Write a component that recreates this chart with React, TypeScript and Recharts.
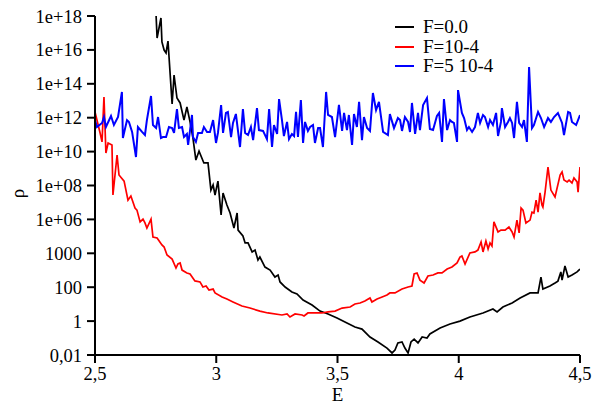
import React from 'react';
import { LineChart, Line, XAxis, YAxis, Legend } from 'recharts';

// E axis
const xTicks = [2.5, 3, 3.5, 4, 4.5];
const xTickLabels = ['2,5', '3', '3,5', '4', '4,5'];
// rho axis (values stored as log10 rho)
const yTicks = [-2, 0, 2, 4, 6, 8, 10, 12, 14, 16, 18];
const yTickLabels = ['0,01', '1', '100', '1000', '1e+06', '1e+08', '1e+10', '1e+12', '1e+14', '1e+16', '1e+18'];

const seriesNames = ['F=0.0', 'F=10-4', 'F=5 10-4'];
const seriesColors = ['#000000', '#ff0000', '#0000ff'];

// [E, log10(rho)]
const blackSeries: [number, number][] = [
  [2.752, 18.0], [2.756, 16.7], [2.764, 17.29], [2.772, 17.88], [2.776, 16.47], [2.785, 15.99], [2.793, 15.82],
  [2.801, 16.52], [2.818, 12.81], [2.826, 14.52], [2.838, 13.16], [2.851, 12.87], [2.867, 11.86], [2.879, 12.63],
  [2.892, 11.75], [2.904, 10.8], [2.916, 9.5], [2.929, 10.03], [2.949, 9.33], [2.966, 9.33], [2.978, 7.73],
  [2.987, 8.03], [2.995, 7.44], [3.007, 8.26], [3.02, 6.26], [3.028, 7.56], [3.044, 6.85], [3.057, 6.38],
  [3.073, 5.49], [3.086, 6.38], [3.09, 5.37], [3.11, 5.02], [3.119, 4.61], [3.131, 4.61], [3.148, 4.08],
  [3.16, 4.19], [3.172, 3.6], [3.18, 3.78], [3.201, 3.19], [3.222, 3.01], [3.242, 2.6], [3.255, 2.72],
  [3.263, 2.31], [3.284, 2.01], [3.312, 1.72], [3.333, 1.6], [3.358, 1.24], [3.395, 0.95], [3.428, 0.59],
  [3.461, 0.42], [3.498, 0.18], [3.539, -0.11], [3.572, -0.35], [3.601, -0.47], [3.634, -0.94], [3.667, -1.23],
  [3.704, -1.59], [3.725, -1.88], [3.737, -1.71], [3.749, -1.29], [3.766, -1.23], [3.778, -1.59], [3.791, -1.88],
  [3.803, -1.23], [3.816, -1.06], [3.832, -1.29], [3.849, -0.94], [3.869, -1.0], [3.881, -0.76], [3.923, -0.41],
  [3.964, -0.17], [4.005, 0.0], [4.046, 0.24], [4.1, 0.48], [4.141, 0.71], [4.158, 0.54], [4.182, 0.83],
  [4.22, 1.07], [4.253, 1.36], [4.294, 1.66], [4.327, 1.66], [4.339, 2.6], [4.347, 1.89], [4.376, 2.07],
  [4.397, 2.25], [4.409, 2.36], [4.421, 2.9], [4.426, 2.42], [4.438, 3.25], [4.451, 2.6], [4.467, 2.72],
  [4.488, 2.9], [4.5, 3.07],
];

const redSeries: [number, number][] = [
  [2.5, 12.34], [2.521, 11.1], [2.529, 10.57], [2.537, 13.22], [2.545, 9.92], [2.554, 10.51], [2.57, 10.39],
  [2.574, 7.44], [2.591, 9.8], [2.599, 8.62], [2.62, 8.26], [2.636, 7.14], [2.648, 7.38], [2.665, 6.67],
  [2.673, 6.55], [2.686, 5.85], [2.698, 6.02], [2.706, 5.79], [2.714, 5.49], [2.731, 6.02], [2.739, 4.96],
  [2.756, 4.9], [2.776, 4.49], [2.785, 4.37], [2.797, 3.9], [2.818, 3.66], [2.834, 3.13], [2.842, 3.37],
  [2.851, 3.43], [2.859, 3.01], [2.879, 2.84], [2.892, 2.78], [2.912, 2.37], [2.933, 2.31], [2.945, 2.01],
  [2.958, 2.07], [2.97, 1.83], [2.987, 1.89], [2.995, 1.66], [3.024, 1.42], [3.044, 1.3], [3.069, 1.13],
  [3.106, 0.89], [3.139, 0.77], [3.18, 0.59], [3.213, 0.48], [3.271, 0.36], [3.292, 0.42], [3.304, 0.24],
  [3.325, 0.42], [3.354, 0.36], [3.362, 0.3], [3.378, 0.48], [3.436, 0.48], [3.461, 0.54], [3.49, 0.59],
  [3.519, 0.77], [3.552, 0.83], [3.572, 1.01], [3.593, 1.07], [3.613, 1.18], [3.634, 1.36], [3.642, 1.13],
  [3.663, 1.3], [3.684, 1.42], [3.704, 1.54], [3.716, 1.66], [3.737, 1.66], [3.766, 1.89], [3.791, 2.01],
  [3.807, 2.07], [3.816, 2.78], [3.828, 2.84], [3.84, 2.42], [3.857, 2.25], [3.873, 2.66], [3.894, 2.72],
  [3.914, 2.84], [3.931, 2.84], [3.952, 3.07], [3.972, 3.19], [3.993, 3.43], [4.005, 3.78], [4.013, 3.84],
  [4.026, 3.37], [4.046, 4.02], [4.067, 4.08], [4.079, 4.19], [4.092, 4.67], [4.1, 4.08], [4.112, 4.72],
  [4.121, 4.25], [4.129, 4.61], [4.137, 4.43], [4.145, 5.85], [4.162, 5.26], [4.174, 5.37], [4.191, 5.37],
  [4.207, 5.55], [4.22, 5.26], [4.228, 4.96], [4.24, 5.96], [4.249, 5.2], [4.257, 6.67], [4.265, 6.55],
  [4.277, 5.79], [4.294, 5.96], [4.302, 6.43], [4.31, 6.38], [4.319, 7.14], [4.327, 6.43], [4.335, 7.56],
  [4.343, 6.85], [4.347, 6.73], [4.356, 7.61], [4.368, 9.09], [4.38, 7.73], [4.397, 7.32], [4.418, 8.62],
  [4.426, 8.8], [4.434, 8.32], [4.447, 8.21], [4.455, 8.32], [4.467, 8.15], [4.475, 8.44], [4.488, 8.21],
  [4.492, 7.61], [4.5, 9.09],
];

const blueSeries: [number, number][] = [
  [2.5, 11.86], [2.508, 11.45], [2.529, 11.69], [2.537, 12.04], [2.545, 11.45], [2.566, 12.1], [2.578, 11.57],
  [2.595, 12.04], [2.611, 13.52], [2.615, 10.8], [2.632, 11.86], [2.64, 11.75], [2.653, 11.16], [2.669, 9.68],
  [2.677, 11.45], [2.694, 11.16], [2.706, 10.98], [2.714, 11.86], [2.731, 13.28], [2.739, 11.57], [2.752, 11.39],
  [2.76, 12.04], [2.772, 10.8], [2.78, 10.86], [2.793, 10.86], [2.805, 11.45], [2.818, 11.39], [2.826, 11.1],
  [2.838, 12.51], [2.846, 11.39], [2.859, 11.45], [2.867, 10.86], [2.879, 11.04], [2.884, 10.39], [2.892, 11.27],
  [2.9, 12.16], [2.904, 10.86], [2.916, 10.57], [2.925, 11.1], [2.941, 11.1], [2.949, 11.45], [2.962, 11.16],
  [2.974, 11.16], [2.987, 11.86], [2.999, 10.51], [3.007, 11.1], [3.02, 12.75], [3.028, 11.1], [3.04, 12.28],
  [3.048, 12.34], [3.061, 10.86], [3.069, 11.69], [3.081, 12.22], [3.098, 10.27], [3.11, 12.51], [3.119, 11.1],
  [3.131, 10.98], [3.143, 11.45], [3.152, 10.68], [3.168, 12.57], [3.176, 11.27], [3.193, 11.22], [3.209, 10.74],
  [3.218, 12.51], [3.23, 10.27], [3.238, 11.57], [3.251, 11.04], [3.259, 13.1], [3.271, 11.86], [3.279, 10.92],
  [3.292, 11.75], [3.3, 10.74], [3.312, 11.04], [3.321, 10.92], [3.329, 12.34], [3.337, 10.86], [3.349, 13.04],
  [3.358, 10.51], [3.366, 11.75], [3.378, 11.22], [3.387, 11.45], [3.399, 11.57], [3.407, 10.51], [3.42, 11.39],
  [3.428, 11.39], [3.44, 10.27], [3.453, 13.52], [3.461, 12.16], [3.477, 12.04], [3.49, 10.86], [3.506, 12.75],
  [3.519, 11.22], [3.527, 12.28], [3.539, 11.27], [3.547, 12.16], [3.56, 10.39], [3.568, 12.22], [3.58, 11.45],
  [3.589, 12.93], [3.601, 10.68], [3.609, 12.04], [3.622, 11.39], [3.634, 11.22], [3.646, 13.46], [3.659, 12.45],
  [3.671, 12.93], [3.688, 11.16], [3.708, 10.98], [3.716, 12.22], [3.733, 11.39], [3.749, 11.98], [3.758, 11.86],
  [3.766, 11.22], [3.778, 12.04], [3.791, 11.75], [3.799, 11.16], [3.807, 12.87], [3.82, 11.04], [3.832, 12.28],
  [3.84, 11.27], [3.853, 12.75], [3.869, 13.16], [3.881, 11.33], [3.894, 11.27], [3.91, 12.1], [3.919, 12.28],
  [3.931, 10.57], [3.939, 13.1], [3.952, 11.27], [3.964, 11.86], [3.972, 11.75], [3.98, 11.69], [3.993, 10.57],
  [3.997, 13.63], [4.013, 12.28], [4.022, 11.98], [4.034, 11.27], [4.042, 11.45], [4.055, 11.16], [4.067, 11.45],
  [4.079, 12.28], [4.088, 11.69], [4.1, 12.16], [4.108, 12.04], [4.121, 11.45], [4.129, 11.86], [4.141, 11.57],
  [4.154, 12.28], [4.162, 10.92], [4.174, 11.75], [4.178, 12.57], [4.191, 11.45], [4.203, 11.75], [4.211, 11.98],
  [4.22, 11.69], [4.228, 10.8], [4.24, 12.93], [4.249, 11.69], [4.261, 11.45], [4.269, 11.86], [4.281, 10.57],
  [4.29, 14.99], [4.302, 11.39], [4.31, 11.57], [4.327, 12.34], [4.339, 11.98], [4.352, 11.45], [4.368, 11.98],
  [4.38, 11.75], [4.393, 12.04], [4.409, 12.28], [4.426, 11.69], [4.434, 10.98], [4.451, 12.34], [4.459, 12.28],
  [4.467, 11.75], [4.484, 11.57], [4.5, 12.16],
];

const allSeries = [blackSeries, redSeries, blueSeries];

const FONT = "'Liberation Serif', 'Times New Roman', Times, serif";

const toRows = (s: [number, number][]) => s.map(([E, L]) => ({ E, L }));

const LegendContent = (props: any) => {
  const payload = props.payload || [];
  return (
    <div style={{ fontFamily: FONT, fontSize: 19, color: '#000' }}>
      {payload.map((p: any, i: number) => (
        <div key={i} style={{ display: 'flex', alignItems: 'center', height: 19.5, lineHeight: '19.5px' }}>
          <svg width={28} height={19.5} style={{ display: 'block' }}>
            <line x1={0} x2={19} y1={10} y2={10} stroke={p.color} strokeWidth={2} />
          </svg>
          <span style={{ whiteSpace: 'nowrap', fontFamily: FONT }}>{p.value}</span>
        </div>
      ))}
    </div>
  );
};

const YLabel = (props: any) => {
  const vb = props.viewBox || { x: 0, y: 0, width: 0, height: 0 };
  const cx = vb.x + 17;
  const cy = vb.y + vb.height / 2 + 8;
  return (
    <text x={cx} y={cy} transform={`rotate(-90, ${cx}, ${cy})`} textAnchor="middle" dominantBaseline="central"
      fontFamily={FONT} fontSize={19} fill="#000">ρ</text>
  );
};

const XLabel = (props: any) => {
  const vb = props.viewBox || { x: 0, y: 0, width: 0, height: 0 };
  const cx = vb.x + vb.width / 2;
  const by = vb.y + vb.height - 5;
  return (
    <text x={cx} y={by} textAnchor="middle" fontFamily={FONT} fontSize={19} fill="#000">E</text>
  );
};

export default function App() {
  return (
    <div style={{ position: 'absolute', left: 0, top: 0, width: 600, height: 406, background: '#fff' }}>
      <LineChart width={600} height={406} margin={{ top: 16, right: 20, bottom: 0, left: 0 }}>
        <XAxis
          type="number"
          dataKey="E"
          domain={[2.5, 4.5]}
          ticks={xTicks}
          allowDataOverflow
          tickFormatter={(v: number) => xTickLabels[xTicks.indexOf(v)] ?? String(v)}
          height={51}
          tickSize={8}
          tickMargin={4}
          axisLine={{ stroke: '#000', strokeWidth: 2 }}
          tickLine={{ stroke: '#000', strokeWidth: 2 }}
          tick={{ fill: '#000', fontSize: 18.5, fontFamily: FONT }}
          label={{ content: XLabel }}
        />
        <YAxis
          type="number"
          dataKey="L"
          domain={[-2, 18]}
          ticks={yTicks}
          allowDataOverflow
          interval={0}
          tickFormatter={(v: number) => yTickLabels[yTicks.indexOf(v)] ?? String(v)}
          width={95}
          tickSize={8}
          tickMargin={5}
          axisLine={{ stroke: '#000', strokeWidth: 2 }}
          tickLine={{ stroke: '#000', strokeWidth: 2 }}
          tick={{ fill: '#000', fontSize: 18.5, fontFamily: FONT }}
          label={{ content: YLabel }}
        />
        <Legend
          layout="vertical"
          align="center"
          verticalAlign="middle"
          wrapperStyle={{ position: 'absolute', left: 395, top: 17, width: 160, height: 60 }}
          content={LegendContent}
        />
        {allSeries.map((s, i) => (
          <Line
            key={seriesNames[i]}
            data={toRows(s)}
            dataKey="L"
            name={seriesNames[i]}
            stroke={seriesColors[i]}
            strokeWidth={i === 2 ? 2 : 1.7}
            dot={false}
            activeDot={false}
            isAnimationActive={false}
            type="linear"
          />
        ))}
      </LineChart>
    </div>
  );
}
